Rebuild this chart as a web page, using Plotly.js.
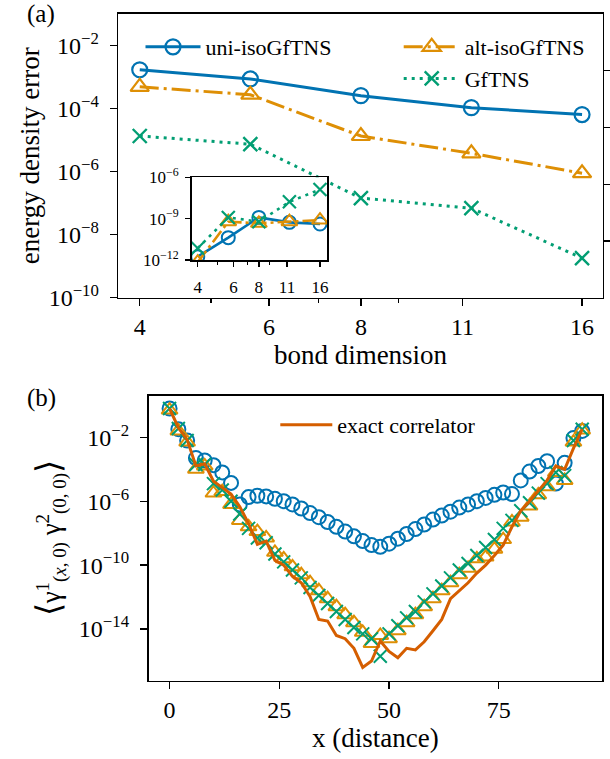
<!DOCTYPE html>
<html><head><meta charset="utf-8">
<script src="https://cdn.plot.ly/plotly-3.0.1.min.js"></script>
<style>html,body{margin:0;padding:0;background:#fff}#chart{width:610px;height:759px}</style>
</head><body><div id="chart"></div>
<script>
// ---- panel (a) data ----
const bondDim = [4, 5.657, 8, 11.31, 16];
const bondTickVals = [4, 6, 8, 11, 16];
const bondTickText = ['4', '6', '8', '11', '16'];
const uniErr = [1.7e-3, 8.7e-4, 2.57e-4, 1.07e-4, 6.46e-5];
const altErr = [4.9e-4, 2.75e-4, 1.35e-5, 3.8e-6, 8.9e-7];
const gfErr  = [1.35e-5, 7.4e-6, 1.45e-7, 6.9e-8, 1.8e-9];
const errTickVals = [1e-10, 1e-8, 1e-6, 1e-4, 1e-2];
const errTickText = ['10<sup>−10</sup>', '10<sup>−8</sup>', '10<sup>−6</sup>', '10<sup>−4</sup>', '10<sup>−2</sup>'];
// inset
const uniInset = [1.74e-12, 4.2e-11, 1.23e-9, 5.4e-10, 4.1e-10];
const altInset = [7.0e-13, 6.0e-10, 4.6e-10, 6.0e-10, 7.9e-10];
const gfInset  = [7.1e-12, 1.23e-9, 6.0e-10, 1.66e-8, 1.32e-7];
const insetTickVals = [1e-12, 1e-9, 1e-6];
const insetTickText = ['10<sup>−12</sup>', '10<sup>−9</sup>', '10<sup>−6</sup>'];
// ---- panel (b) data ----
const distance = [0,2,4,6,8,10,12,14,16,18,20,22,24,26,28,30,32,34,36,38,40,42,44,46,
                  48,50,52,54,56,58,60,62,64,66,68,70,72,74,76,78,80,82,84,86,88,90,92,94];
const distTickVals = [0, 25, 50, 75];
const corrTickVals = [1e-14, 1e-10, 1e-6, 1e-2];
const corrTickText = ['10<sup>−14</sup>', '10<sup>−10</sup>', '10<sup>−6</sup>', '10<sup>−2</sup>'];
const uniCorr = [6.3e-1,3.2e-2,6.3e-3,5.0e-4,3.5e-4,1.8e-4,6.3e-5,1.4e-5,6.3e-7,1.8e-6,2.2e-6,2.0e-6,
                 1.4e-6,1.0e-6,6.3e-7,3.5e-7,1.8e-7,1.0e-7,5.0e-8,2.5e-8,1.26e-8,6.3e-9,3.2e-9,1.8e-9,
                 1.4e-9,2.2e-9,4.5e-9,8.9e-9,1.8e-8,3.5e-8,7.1e-8,1.26e-7,2.2e-7,4.0e-7,6.3e-7,1.0e-6,
                 1.6e-6,2.5e-6,3.5e-6,2.8e-6,2.0e-5,7.1e-5,1.6e-4,3.2e-4,1.26e-5,2.5e-4,8.9e-3,2.5e-2];
const altCorr = [5.0e-1,2.5e-2,5.0e-3,1.0e-4,1.6e-4,3.2e-6,4.0e-6,6.3e-7,6.3e-8,2.5e-8,1.26e-8,5.0e-9,
                 6.3e-10,2.5e-10,7.9e-11,2.5e-11,7.9e-12,2.5e-12,7.9e-13,2.5e-13,7.9e-14,2.5e-14,6.3e-15,1.26e-15,
                 4.0e-15,2.5e-15,7.9e-15,2.5e-14,7.9e-14,2.5e-13,7.9e-13,2.5e-12,7.9e-12,2.5e-11,6.3e-11,2.5e-10,
                 3.2e-10,1.0e-9,4.0e-9,5.0e-8,1.0e-7,5.0e-7,2.5e-6,7.9e-6,6.3e-5,2.0e-5,5.0e-3,2.8e-2];
const gfCorr  = [6.3e-1,3.5e-2,6.3e-3,2.0e-4,2.0e-4,1.26e-5,5.0e-6,1.0e-6,1.6e-7,2.0e-8,5.0e-9,2.5e-9,
                 5.0e-10,1.6e-10,5.0e-11,1.6e-11,4.0e-12,1.26e-12,4.0e-13,1.26e-13,4.0e-14,1.26e-14,5.0e-15,2.5e-15,
                 2.0e-16,5.0e-15,1.6e-14,5.0e-14,1.26e-13,5.0e-13,1.6e-12,5.0e-12,1.6e-11,5.0e-11,1.26e-10,4.0e-10,
                 1.26e-9,4.0e-9,2.0e-8,6.3e-8,2.5e-7,7.9e-7,3.2e-6,1.26e-5,6.3e-5,4.0e-5,6.3e-3,3.2e-2];
const exactCorr = [6.3e-1,4.0e-2,7.1e-3,1.6e-4,2.2e-4,1.8e-5,7.1e-6,2.8e-6,4.5e-7,4.0e-8,2.0e-9,3.2e-9,
                   2.0e-10,1.0e-10,2.0e-11,7.9e-12,1.1e-12,4.0e-14,3.2e-14,4.0e-15,2.5e-15,6.3e-16,4.0e-17,1.0e-16,
                   1.8e-15,4.0e-16,1.6e-16,6.3e-16,5.0e-16,1.6e-15,7.9e-15,4.0e-14,7.9e-13,2.5e-12,7.9e-12,3.2e-11,
                   1.0e-10,4.0e-10,1.8e-9,2.5e-8,2.5e-7,1.0e-6,4.5e-6,2.0e-5,1.6e-4,1.0e-4,2.0e-3,3.2e-2];

const names = ['uni-isoGfTNS', 'alt-isoGfTNS', 'GfTNS', 'exact correlator'];
const C = {blue: '#0173b2', orange: '#de8f05', green: '#029e73', red: '#d55e00'};
const FONT = 'Liberation Serif';

const W = 610, H = 759;
const px = v => v / W, py = v => 1 - v / H;

const traces = [
  {x: bondDim, y: uniErr, name: names[0], mode: 'lines+markers', xaxis: 'x', yaxis: 'y', legend: 'legend',
   line: {color: C.blue, width: 3}, marker: {symbol: 'circle-open', size: 15, color: C.blue, line: {width: 2.2, color: C.blue}}},
  {x: bondDim, y: altErr, name: names[1], mode: 'lines+markers', xaxis: 'x', yaxis: 'y', legend: 'legend2',
   line: {color: C.orange, width: 3, dash: '19px,5px,3px,5px'}, marker: {symbol: 'triangle-up-open', size: 16, color: C.orange, line: {width: 2.2, color: C.orange}}},
  {x: bondDim, y: gfErr, name: names[2], mode: 'lines+markers', xaxis: 'x', yaxis: 'y', legend: 'legend2',
   line: {color: C.green, width: 3, dash: '3px,5px'}, marker: {symbol: 'x-thin-open', size: 14, color: C.green, line: {width: 2.4, color: C.green}}},
  {x: [], y: [], xaxis: 'x', yaxis: 'y4', showlegend: false, hoverinfo: 'skip'},
  {x: bondDim, y: uniInset, name: names[0], mode: 'lines+markers', xaxis: 'x2', yaxis: 'y2', showlegend: false,
   line: {color: C.blue, width: 2.6}, marker: {symbol: 'circle-open', size: 13, color: C.blue, line: {width: 2, color: C.blue}}},
  {x: bondDim, y: altInset, name: names[1], mode: 'lines+markers', xaxis: 'x2', yaxis: 'y2', showlegend: false,
   line: {color: C.orange, width: 2.6, dash: '14px,4px,3px,4px'}, marker: {symbol: 'triangle-up-open', size: 14, color: C.orange, line: {width: 2, color: C.orange}}},
  {x: bondDim, y: gfInset, name: names[2], mode: 'lines+markers', xaxis: 'x2', yaxis: 'y2', showlegend: false,
   line: {color: C.green, width: 2.6, dash: '3px,5px'}, marker: {symbol: 'x-thin-open', size: 13, color: C.green, line: {width: 2.2, color: C.green}}},
  {x: distance, y: uniCorr, name: names[0], mode: 'markers', xaxis: 'x3', yaxis: 'y3', showlegend: false,
   marker: {symbol: 'circle-open', size: 14, color: C.blue, line: {width: 2, color: C.blue}}},
  {x: distance, y: altCorr, name: names[1], mode: 'markers', xaxis: 'x3', yaxis: 'y3', showlegend: false,
   marker: {symbol: 'triangle-up-open', size: 14, color: C.orange, line: {width: 2, color: C.orange}}},
  {x: distance, y: gfCorr, name: names[2], mode: 'markers', xaxis: 'x3', yaxis: 'y3', showlegend: false,
   marker: {symbol: 'x-thin-open', size: 13, color: C.green, line: {width: 2, color: C.green}}},
  {x: distance, y: exactCorr, name: names[3], mode: 'lines', xaxis: 'x3', yaxis: 'y3', legend: 'legend3',
   line: {color: C.red, width: 3}}
];

const axBase = {
  showline: true, mirror: true, linecolor: '#000', linewidth: 1.6,
  ticks: 'outside', ticklen: 7, tickwidth: 1.4, tickcolor: '#000',
  showgrid: false, zeroline: false, automargin: false,
  tickfont: {family: FONT, size: 24, color: '#000'}
};
const legBase = {bgcolor: 'rgba(0,0,0,0)', borderwidth: 0, font: {family: FONT, size: 22, color: '#000'},
  xanchor: 'left', yanchor: 'top', tracegroupgap: 0};

const layout = {
  width: W, height: H, margin: {l: 0, r: 0, t: 0, b: 0},
  paper_bgcolor: '#fff', plot_bgcolor: '#fff',
  font: {family: FONT, size: 24, color: '#000'},
  xaxis: Object.assign({}, axBase, {
    type: 'log', domain: [px(118.3), px(602.7)], anchor: 'y',
    range: [Math.log10(3.74), Math.log10(17.07)],
    tickmode: 'array', tickvals: bondTickVals, ticktext: bondTickText, ticklabelstandoff: 0,
    minor: {tickmode: 'array', tickvals: [5, 7, 9], ticks: 'outside', ticklen: 4, tickwidth: 1.2, tickcolor: '#000'},
    title: {text: 'bond dimension', font: {family: FONT, size: 27, color: '#000'}, standoff: 4}
  }),
  yaxis: Object.assign({}, axBase, {
    type: 'log', domain: [py(297.7), py(14)], anchor: 'x',
    range: [-10, -1], tickmode: 'array', tickvals: errTickVals, ticktext: errTickText, ticklabelstandoff: 6,
    title: {text: 'energy density error', font: {family: FONT, size: 27, color: '#000'}, standoff: 1}
  }),
  yaxis4: {
    overlaying: 'y', side: 'right', anchor: 'x', range: [0, 1],
    tickmode: 'array', tickvals: [0.2, 0.4, 0.6, 0.8], showticklabels: false,
    ticks: 'outside', ticklen: 7, tickwidth: 1.4, tickcolor: '#000',
    showline: false, showgrid: false, zeroline: false, automargin: false
  },
  xaxis2: Object.assign({}, axBase, {
    type: 'log', domain: [px(191.7), px(327.3)], anchor: 'y2',
    range: [Math.log10(3.736), Math.log10(17.38)], ticklen: 5,
    tickmode: 'array', tickvals: bondTickVals, ticktext: bondTickText, ticklabelstandoff: 6,
    minor: {tickmode: 'array', tickvals: [5, 7, 9], ticks: 'outside', ticklen: 3, tickwidth: 1.1, tickcolor: '#000'},
    tickfont: {family: FONT, size: 17, color: '#000'}
  }),
  yaxis2: Object.assign({}, axBase, {
    type: 'log', domain: [py(260), py(177.3)], anchor: 'x2',
    range: [-12, -6], ticklen: 5, tickmode: 'array', tickvals: insetTickVals, ticktext: insetTickText,
    ticklabelstandoff: 3, tickfont: {family: FONT, size: 17, color: '#000'}
  }),
  xaxis3: Object.assign({}, axBase, {
    domain: [px(148.5), px(602.4)], anchor: 'y3',
    range: [-4.8, 98.6], tickmode: 'array', tickvals: distTickVals, ticklabelstandoff: 0,
    title: {text: 'x (distance)', font: {family: FONT, size: 27, color: '#000'}, standoff: 0}
  }),
  yaxis3: Object.assign({}, axBase, {
    type: 'log', domain: [py(680.7), py(395.7)], anchor: 'x3',
    range: [-17.23, 0.6], tickmode: 'array', tickvals: corrTickVals, ticktext: corrTickText, ticklabelstandoff: 6,
    title: {text: '<span style="font-size:34px">⟨</span>γ<sup>1</sup><sub>(<i>x</i>, 0)</sub> γ<sup>2</sup><sub>(0, 0)</sub><span style="font-size:34px">⟩</span>',
            font: {family: FONT, size: 27, color: '#000'}, standoff: 10}
  }),
  legend: Object.assign({}, legBase, {x: px(140.5), y: py(26), itemwidth: 55}),
  legend2: Object.assign({}, legBase, {x: px(398.7), y: py(26), itemwidth: 56}),
  legend3: Object.assign({}, legBase, {x: px(275.3), y: py(404), itemwidth: 52}),
  annotations: [
    {text: '(a)', xref: 'paper', yref: 'paper', x: px(41), y: py(14), showarrow: false,
     xanchor: 'center', yanchor: 'middle', font: {family: FONT, size: 25, color: '#000'}},
    {text: '(b)', xref: 'paper', yref: 'paper', x: px(41), y: py(398), showarrow: false,
     xanchor: 'center', yanchor: 'middle', font: {family: FONT, size: 25, color: '#000'}}
  ]
};

Plotly.newPlot('chart', traces, layout, {staticPlot: true});
</script>
</body></html>
